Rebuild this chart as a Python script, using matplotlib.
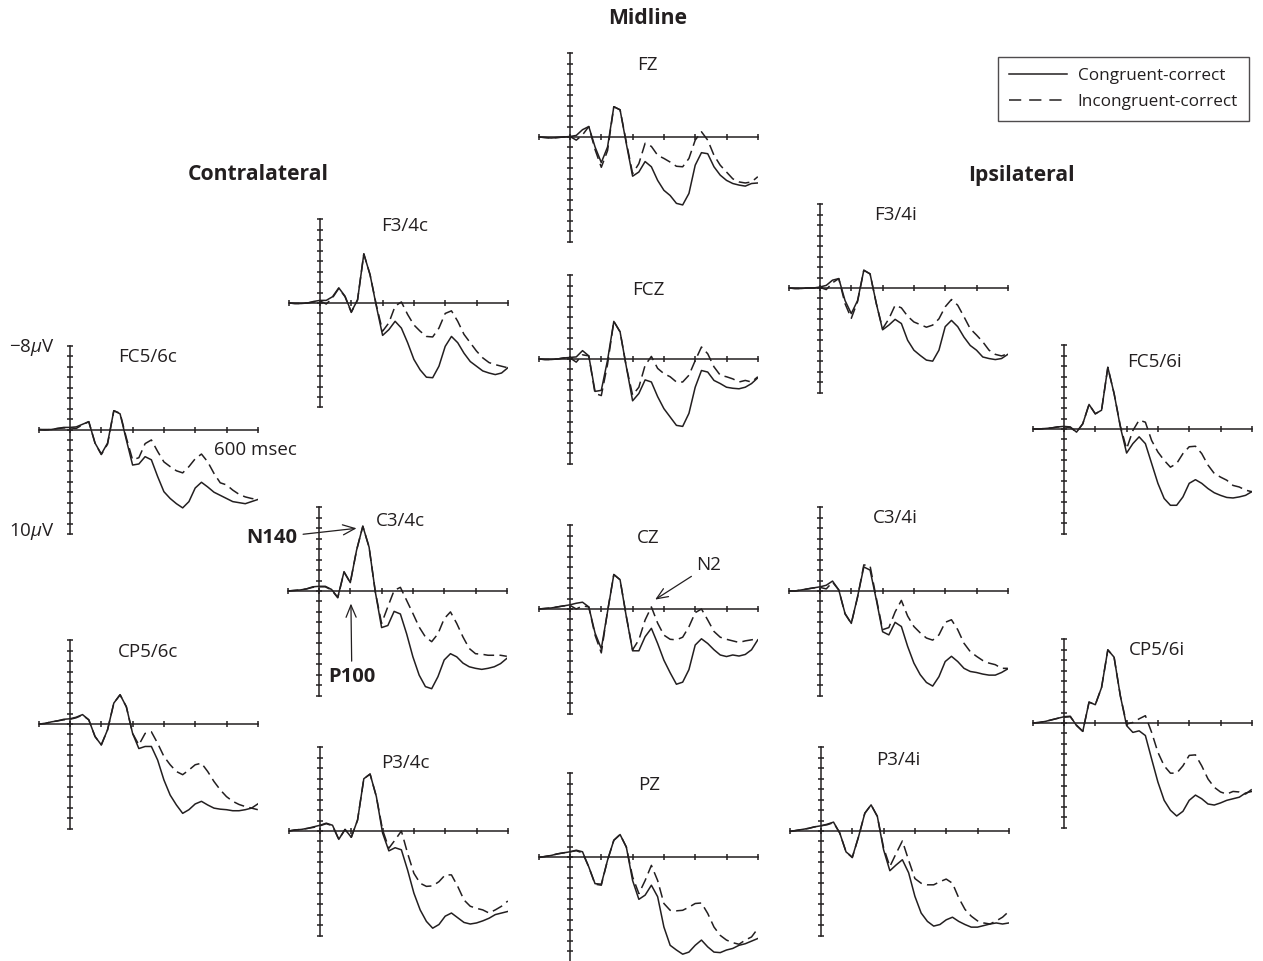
#!/usr/bin/env python3
"""
Grand-average ERP waveforms (congruent vs incongruent correct trials)
laid out as a scalp montage: contralateral, midline and ipsilateral sites.
"""

import matplotlib
matplotlib.use("Agg")
import matplotlib.pyplot as plt
from matplotlib.lines import Line2D

plt.rcParams['font.family'] = ['Open Sans', 'DejaVu Sans']
plt.rcParams['mathtext.fontset'] = 'custom'
plt.rcParams['mathtext.rm'] = 'Open Sans'
plt.rcParams['mathtext.it'] = 'Open Sans:italic'

# sample times (ms) shared by every waveform
times = list(range(-100, 601, 20))

# amplitudes in microvolts (negative plotted up)
fc56c_cong = [0, 0, 0, -0.1, -0.2, -0.2, -0.25, -0.5, -0.75, 1.3, 2.35, 1.3,
              -1.8, -1.5, 1.0, 3.4, 3.3, 2.6, 2.9, 4.5, 5.95, 6.6, 7.1, 7.5,
              6.9, 5.6, 5.05, 5.5, 6.0, 6.3, 6.6, 6.9, 7.0, 7.1, 6.9, 6.7]
fc56c_incong = [0, 0.05, 0, -0.1, -0.15, -0.15, -0.1, -0.45, -0.75, 1.3, 2.4, 1.4,
                -1.8, -1.55, 0.8, 2.9, 2.7, 1.35, 1.0, 2.1, 3.1, 3.55, 3.95, 4.15,
                3.55, 2.8, 2.35, 3.1, 4.2, 5.1, 5.3, 5.8, 6.2, 6.45, 6.6, 6.7]

f34c_cong = [0, 0.05, 0.05, 0, -0.15, -0.25, -0.25, -0.6, -1.45, -0.65, 0.85, -0.3,
             -4.7, -2.7, 0.3, 3.1, 2.55, 1.75, 2.4, 3.8, 5.4, 6.4, 7.1, 7.15,
             6.05, 4.15, 3.2, 3.8, 4.8, 5.6, 6.05, 6.5, 6.7, 6.85, 6.7, 6.2]
f34c_incong = [0, 0.05, 0.05, 0, -0.1, -0.2, 0.1, -0.5, -1.4, -0.6, 0.9, -0.3,
               -4.7, -2.7, 0.2, 2.7, 1.9, 0.3, -0.1, 1.1, 2.1, 2.7, 3.2, 3.25,
               2.4, 1.0, 0.75, 1.75, 3.0, 3.8, 4.6, 5.25, 5.7, 5.9, 6.05, 6.2]

fz_cong = [0, 0.05, 0.1, 0.05, 0, -0.05, -0.15, -0.7, -1.0, 0.95, 2.45, 0.95,
           -2.9, -2.6, 0.65, 3.75, 3.35, 2.35, 2.85, 4.15, 5.1, 5.6, 6.35, 6.5,
           5.4, 2.7, 1.5, 1.6, 2.85, 3.65, 4.15, 4.45, 4.6, 4.7, 4.45, 4.4]
fz_incong = [0, 0.05, 0.1, 0.05, 0, -0.05, 0.3, -0.2, -1.0, 1.2, 2.9, 1.3,
             -2.9, -2.6, 0.5, 3.5, 2.55, 0.6, 0.9, 1.75, 2.05, 2.4, 2.8, 2.85,
             2.05, 0.3, -0.5, 0.3, 1.75, 2.7, 3.35, 4.0, 4.3, 4.4, 4.3, 3.8]

fcz_cong = [0, 0.05, 0.05, 0, -0.1, -0.15, -0.2, -0.8, -0.3, 3.1, 3.0, 0.1,
            -3.6, -2.6, 0.75, 4.0, 3.3, 2.0, 2.2, 3.6, 4.75, 5.55, 6.35, 6.45,
            5.2, 2.7, 1.1, 1.25, 2.05, 2.35, 2.7, 2.8, 2.85, 2.7, 2.35, 1.8]
fcz_incong = [0, 0.05, 0.05, 0, -0.1, -0.1, 0.3, -0.4, -0.3, 3.3, 3.5, 0.5,
              -3.6, -2.6, 0.75, 3.45, 2.7, 0.6, -0.25, 0.9, 1.4, 1.7, 2.2, 2.2,
              1.55, 0.15, -1.15, -0.5, 0.75, 1.55, 1.7, 1.9, 2.2, 2.05, 2.2, 1.7]

f34i_cong = [0, 0.05, 0.05, 0, 0, -0.1, -0.25, -0.75, -0.9, 1.2, 2.45, 1.2,
             -1.7, -1.35, 1.5, 4.0, 3.55, 3.0, 3.4, 5.0, 5.95, 6.45, 6.9, 7.0,
             5.95, 3.7, 3.1, 3.7, 4.7, 5.5, 5.95, 6.6, 6.75, 6.85, 6.75, 6.35]
f34i_incong = [0, 0.05, 0.05, 0, 0, -0.05, 0.15, -0.5, -0.9, 1.5, 2.9, 1.3,
               -1.7, -1.35, 1.5, 3.9, 2.95, 1.65, 1.9, 2.7, 3.25, 3.5, 3.75, 3.55,
               2.95, 1.8, 1.1, 1.65, 2.75, 3.9, 4.5, 5.15, 5.95, 6.35, 6.5, 6.3]

fc56i_cong = [0, 0, -0.05, -0.1, -0.2, -0.25, -0.2, 0.3, -0.5, -2.35, -1.45, -1.8,
              -5.9, -3.4, -0.2, 2.3, 1.4, 0.75, 1.4, 3.3, 5.2, 6.65, 7.3, 7.3,
              6.5, 5.2, 4.85, 5.2, 5.7, 6.1, 6.35, 6.55, 6.6, 6.5, 6.35, 6.0]
fc56i_incong = [0, 0, -0.05, -0.1, -0.2, -0.2, -0.15, 0.3, -0.5, -2.35, -1.45, -1.8,
                -5.9, -3.4, -0.3, 1.9, 0.15, -0.85, -0.65, 1.1, 2.2, 3.0, 3.65, 3.3,
                2.35, 1.7, 1.65, 2.35, 3.45, 4.25, 4.6, 4.9, 5.4, 5.55, 5.85, 6.0]

c34c_cong = [0, -0.05, -0.1, -0.2, -0.4, -0.45, -0.45, -0.15, 0.6, -1.85, -0.8, -3.9,
             -6.2, -4.2, 0.1, 3.5, 3.3, 1.95, 2.2, 4.1, 6.3, 8.05, 9.15, 9.35,
             8.2, 6.6, 6.0, 6.3, 6.9, 7.25, 7.4, 7.5, 7.4, 7.25, 6.95, 6.45]
c34c_incong = [0, -0.05, -0.1, -0.2, -0.35, -0.4, -0.4, -0.1, 0.65, -1.8, -0.8, -3.9,
               -6.2, -4.2, 0.1, 3.1, 1.5, -0.05, -0.35, 0.9, 2.15, 3.45, 4.4, 4.85,
               4.1, 2.65, 2.0, 3.1, 4.4, 5.5, 6.0, 6.05, 6.15, 6.15, 6.15, 6.25]

cz_cong = [0, -0.05, -0.1, -0.2, -0.3, -0.4, -0.55, -0.65, -0.2, 2.3, 3.8, 0.25,
           -3.3, -2.8, 0.75, 4.0, 4.0, 2.65, 1.85, 3.3, 4.9, 6.1, 7.2, 7.0,
           5.8, 3.45, 2.85, 3.3, 3.9, 4.4, 4.55, 4.4, 4.5, 4.35, 3.9, 2.95]
cz_incong = [0, -0.05, -0.1, -0.2, -0.3, -0.35, 0.0, -0.3, -0.2, 2.5, 4.2, 0.2,
             -3.3, -2.8, 0.7, 3.9, 2.95, 1.05, -0.2, 1.35, 2.5, 2.9, 2.95, 2.7,
             1.7, 0.35, 0.0, 1.05, 2.15, 2.7, 2.9, 3.05, 3.2, 3.05, 2.95, 2.85]

c34i_cong = [0, 0, -0.1, -0.2, -0.3, -0.4, -0.55, -0.95, -0.1, 2.15, 3.1, 0.55,
             -2.3, -2.0, 0.85, 3.9, 4.2, 3.0, 3.4, 5.3, 6.9, 8.0, 8.75, 9.1,
             8.2, 6.75, 6.25, 6.75, 7.4, 7.7, 7.8, 7.95, 8.05, 8.05, 7.8, 7.45]
c34i_incong = [0, 0, -0.1, -0.2, -0.3, -0.35, -0.2, -0.85, -0.1, 2.2, 3.1, 0.6,
               -2.5, -2.4, 0.7, 3.7, 3.5, 2.0, 0.9, 2.4, 3.4, 4.0, 4.5, 4.7,
               4.2, 3.0, 2.75, 3.7, 5.0, 5.8, 6.25, 6.65, 6.9, 7.05, 7.4, 7.4]

cp56c_cong = [0, -0.05, -0.2, -0.3, -0.45, -0.5, -0.65, -0.9, -0.4, 1.2, 2.0, 0.55,
              -2.0, -2.8, -1.65, 0.9, 2.35, 2.15, 2.15, 3.45, 5.35, 6.8, 7.75, 8.55,
              8.2, 7.65, 7.4, 7.75, 8.05, 8.15, 8.2, 8.3, 8.3, 8.2, 8.05, 7.65]
cp56c_incong = [0, -0.05, -0.2, -0.3, -0.4, -0.45, -0.6, -0.85, -0.4, 1.2, 2.0, 0.55,
                -2.0, -2.8, -1.65, 0.9, 2.0, 0.9, 0.75, 1.85, 3.1, 3.9, 4.55, 4.85,
                4.4, 3.9, 3.75, 4.55, 5.5, 6.3, 6.95, 7.4, 7.7, 7.9, 8.05, 8.2]

p34c_cong = [0, -0.1, -0.15, -0.25, -0.4, -0.55, -0.75, -0.55, 0.8, -0.15, 0.6, -1.05,
             -5.0, -5.45, -3.3, 0.2, 1.9, 1.6, 1.8, 3.75, 5.95, 7.55, 8.65, 9.3,
             8.95, 8.15, 7.85, 8.3, 8.75, 8.9, 8.8, 8.6, 8.35, 8.0, 7.85, 7.7]
p34c_incong = [0, -0.1, -0.15, -0.25, -0.35, -0.5, -0.7, -0.5, 0.8, -0.15, 0.6, -1.05,
               -5.0, -5.45, -3.3, -0.1, 1.65, 0.85, 0.0, 2.15, 4.05, 5.0, 5.3, 5.25,
               4.85, 4.2, 4.2, 5.3, 6.6, 7.2, 7.4, 7.55, 7.85, 7.55, 7.2, 6.7]

pz_cong = [0.05, -0.05, -0.15, -0.3, -0.4, -0.5, -0.65, -0.5, 0.95, 2.55, 2.6, 0.3,
           -1.6, -2.15, -0.95, 2.25, 4.05, 3.65, 2.7, 3.8, 6.7, 8.45, 8.9, 9.3,
           9.1, 8.45, 7.95, 8.6, 9.1, 9.15, 8.9, 8.75, 8.45, 8.3, 8.05, 7.8]
pz_incong = [0.05, -0.05, -0.15, -0.3, -0.4, -0.5, -0.6, -0.4, 0.95, 2.6, 2.7, 0.3,
             -1.6, -2.15, -0.95, 1.9, 3.5, 2.25, 0.8, 2.25, 4.45, 5.1, 5.15, 5.1,
             4.8, 4.45, 4.4, 5.4, 6.7, 7.5, 7.95, 8.2, 8.35, 7.95, 7.65, 6.85]

p34i_cong = [0.05, -0.05, -0.15, -0.25, -0.4, -0.5, -0.65, -0.85, 0.2, 2.0, 2.5, 0.55,
             -1.7, -2.5, -1.4, 1.8, 3.8, 3.25, 2.75, 4.0, 6.25, 7.85, 8.65, 9.1,
             8.95, 8.5, 8.25, 8.65, 8.95, 9.2, 9.2, 9.05, 8.9, 8.8, 8.9, 8.8]
p34i_incong = [0.05, -0.05, -0.15, -0.25, -0.4, -0.5, -0.6, -0.8, 0.2, 2.0, 2.55, 0.55,
               -1.7, -2.5, -1.4, 1.6, 3.4, 2.15, 0.95, 2.8, 4.55, 5.0, 5.15, 5.15,
               4.85, 4.6, 5.0, 6.4, 7.5, 8.15, 8.6, 8.8, 8.9, 8.6, 8.25, 7.7]

cp56i_cong = [0, -0.05, -0.15, -0.3, -0.45, -0.6, -0.65, 0.25, 0.8, -2.0, -1.75, -3.4,
              -7.0, -6.3, -2.6, 0.25, 0.9, 0.75, 1.2, 3.45, 5.65, 7.4, 8.35, 8.9,
              8.45, 7.4, 6.9, 7.25, 7.75, 7.85, 7.65, 7.4, 7.25, 7.1, 6.7, 6.55]
cp56i_incong = [0, -0.05, -0.15, -0.3, -0.45, -0.55, -0.6, 0.2, 0.8, -2.0, -1.75, -3.4,
                -7.0, -6.3, -2.6, 0.1, -0.05, -0.4, -0.7, 0.9, 2.8, 4.1, 4.8, 4.8,
                4.1, 3.1, 3.05, 4.1, 5.35, 6.15, 6.6, 6.8, 6.55, 6.6, 6.8, 6.35]

INK = '#231f20'
W, H = 1263, 961          # figure size in pixels
PX_MS = 0.313             # pixels per ms
PX_UV = 10.45             # pixels per microvolt

# electrode label, waveforms, position of the (0 ms, 0 uV) origin in pixels,
# label offset from the origin in pixels
panels = [
    ('FC5/6c', fc56c_cong, fc56c_incong, (70, 429.5), (78, -72)),
    ('CP5/6c', cp56c_cong, cp56c_incong, (70, 724), (78, -72)),
    ('F3/4c', f34c_cong, f34c_incong, (320, 303), (85, -77)),
    ('C3/4c', c34c_cong, c34c_incong, (319, 591), (81, -70)),
    ('P3/4c', p34c_cong, p34c_incong, (320, 831), (85, -68)),
    ('FZ', fz_cong, fz_incong, (570, 137), (77, -72)),
    ('FCZ', fcz_cong, fcz_incong, (570, 359), (78, -69)),
    ('CZ', cz_cong, cz_incong, (570, 609), (78, -71)),
    ('PZ', pz_cong, pz_incong, (570, 857), (79, -72)),
    ('F3/4i', f34i_cong, f34i_incong, (820, 288), (75, -73)),
    ('C3/4i', c34i_cong, c34i_incong, (820, 591), (75, -73)),
    ('P3/4i', p34i_cong, p34i_incong, (821, 831), (77, -71)),
    ('FC5/6i', fc56i_cong, fc56i_incong, (1064, 429), (90, -67)),
    ('CP5/6i', cp56i_cong, cp56i_incong, (1064, 723), (93, -73)),
]

LW = 1.1
DASHES = (7, 3.5)
FS = 13.5


def criar_painel(fig, x0, y0):
    """Axes whose data box spans -100..600 ms and -8..10 uV around origin (x0, y0)."""
    left = (x0 - 100 * PX_MS) / W
    right = (x0 + 600 * PX_MS) / W
    top = 1 - (y0 - 8 * PX_UV) / H
    bottom = 1 - (y0 + 10 * PX_UV) / H
    ax = fig.add_axes([left, bottom, right - left, top - bottom])
    ax.set_xlim(-100, 600)
    ax.set_ylim(10, -8)
    ax.axis('off')

    # hand-drawn axes crossing at the origin
    ax.plot([-100, 600], [0, 0], color=INK, lw=1.1, clip_on=False, zorder=1)
    ax.plot([0, 0], [-8, 10], color=INK, lw=1.1, clip_on=False, zorder=1)
    ax.plot(list(range(-100, 601, 100)), [0] * 8, ls='none', marker='|',
            ms=5, mew=1.1, color=INK, clip_on=False, zorder=1)
    ax.plot([0] * 19, list(range(-8, 11)), ls='none', marker='_',
            ms=5, mew=1.1, color=INK, clip_on=False, zorder=1)
    return ax


def main():
    fig = plt.figure(figsize=(W / 100, H / 100), dpi=100)
    axes = {}

    for nome, cong, incong, (x0, y0), (dx, dy) in panels:
        ax = criar_painel(fig, x0, y0)
        ax.plot(times, incong, color=INK, lw=LW, dashes=DASHES,
                solid_joinstyle='round', zorder=2)
        ax.plot(times, cong, color=INK, lw=LW, solid_joinstyle='round', zorder=3)
        ax.text(dx / PX_MS, dy / PX_UV, nome, ha='center', va='center',
                fontsize=FS, color=INK)
        axes[nome] = ax

    # scale annotations on the first panel
    ax = axes['FC5/6c']
    ax.text(-48, -7.8, r'$-8\mu$V', ha='right', va='center', fontsize=FS, color=INK)
    ax.text(-48, 9.8, r'10$\mu$V', ha='right', va='center', fontsize=FS, color=INK)
    ax.text(592, 2.0, '600 msec', ha='center', va='center', fontsize=FS, color=INK)

    # component markers
    seta = dict(arrowstyle='->,head_length=0.6,head_width=0.25', color=INK,
                lw=0.9, shrinkA=2, shrinkB=0)
    ax = axes['C3/4c']
    ax.annotate('N140', xy=(120, -6.0), xytext=(-150, -5.1), ha='center',
                va='center', fontsize=14.5, fontweight='bold', color=INK,
                arrowprops=seta, annotation_clip=False)
    ax.annotate('P100', xy=(102, 1.2), xytext=(105, 8.2), ha='center',
                va='center', fontsize=14.5, fontweight='bold', color=INK,
                arrowprops=seta, annotation_clip=False)
    ax = axes['CZ']
    ax.annotate('N2', xy=(272, -0.9), xytext=(444, -4.2), ha='center',
                va='center', fontsize=FS, color=INK,
                arrowprops=seta, annotation_clip=False)

    # group headings
    fig.text(648 / W, 1 - 18 / H, 'Midline', ha='center', va='center',
             fontsize=15.2, fontweight='bold', color=INK)
    fig.text(258 / W, 1 - 175 / H, 'Contralateral', ha='center', va='center',
             fontsize=15.2, fontweight='bold', color=INK)
    fig.text(1021 / W, 1 - 175 / H, 'Ipsilateral', ha='center', va='center',
             fontsize=15.2, fontweight='bold', color=INK)

    # legend: the dashed key uses longer dashes, as in the printed figure
    handles = [Line2D([], [], color=INK, lw=LW),
               Line2D([], [], color=INK, lw=LW, dashes=(8, 5.2))]
    leg = fig.legend(handles, ['Congruent-correct', 'Incongruent-correct'],
                     loc='upper right', bbox_to_anchor=(1249 / W, 1 - 57 / H),
                     fontsize=12.3, frameon=True, fancybox=False,
                     edgecolor=INK, handlelength=3.4, handletextpad=0.6,
                     borderpad=0.65, labelspacing=0.6, borderaxespad=0)
    leg.get_frame().set_linewidth(1.0)
    for t in leg.get_texts():
        t.set_color(INK)

    fig.savefig('out.png', dpi=100)


if __name__ == "__main__":
    main()
